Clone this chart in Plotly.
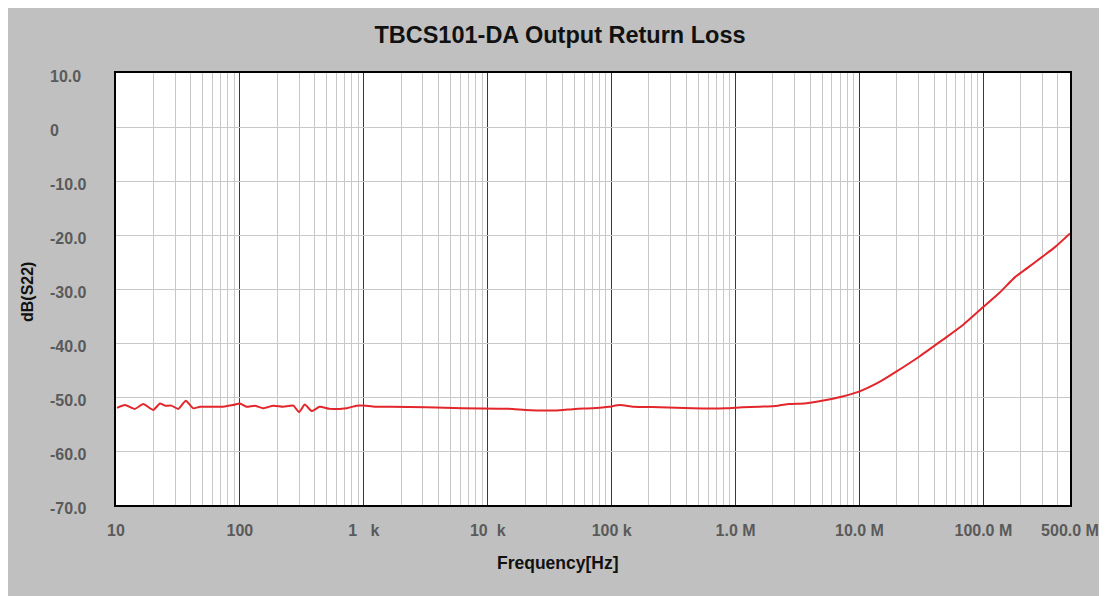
import plotly.graph_objects as go

freq_hz = [10.2, 11.8, 14.2, 16.6, 20, 22.6, 24.8, 28, 31.8, 36.6, 42, 47.6, 57, 73, 88,
           100, 113, 132, 154, 186, 223, 270, 300, 334, 380, 440, 530, 640, 728, 870,
           1050, 1260, 1620, 3200, 6300, 15900, 20000, 35000, 51000, 70000, 95000,
           117000, 150000, 245000, 450000, 830000, 1.13e6, 1.55e6, 2.2e6, 2.7e6, 3.6e6,
           4.5e6, 7.3e6, 9.9e6, 14.5e6, 19.8e6, 30.5e6, 47e6, 68e6, 99e6, 135e6, 180e6,
           230e6, 300e6, 380e6, 500e6]
s22_db = [-52.0, -51.5, -52.2, -51.3, -52.4, -51.2, -51.6, -51.6, -52.2, -50.7, -52.1,
          -51.8, -51.8, -51.8, -51.5, -51.2, -51.8, -51.6, -52.1, -51.6, -51.8, -51.6,
          -52.8, -51.4, -52.6, -51.8, -52.2, -52.2, -52.1, -51.6, -51.6, -51.8, -51.8,
          -51.9, -52.1, -52.2, -52.4, -52.5, -52.2, -52.1, -51.8, -51.5, -51.8, -51.9,
          -52.1, -52.1, -51.9, -51.8, -51.6, -51.3, -51.2, -50.9, -49.9, -49.0, -47.2,
          -45.3, -42.5, -39.4, -36.7, -33.4, -30.7, -27.8, -26.0, -24.0, -22.2, -19.7]

x_tick_vals = [10, 100, 1e3, 1e4, 1e5, 1e6, 1e7, 1e8, 5e8]
x_tick_text = ["10", "100", "1\u00a0\u00a0\u00a0k", "10\u00a0\u00a0k", "100 k",
               "1.0 M", "10.0 M", "100.0 M", "500.0 M"]
y_tick_vals = [10, 0, -10, -20, -30, -40, -50, -60, -70]
y_tick_text = ["10.0", "0", "-10.0", "-20.0", "-30.0", "-40.0", "-50.0", "-60.0", "-70.0"]

# page has an 8px body margin, so figure pixel = screenshot pixel - 8
W, H = 1107, 596
L, R, T, B = 108, 45, 65, 99
pw, ph = W - L - R, H - T - B

fig = go.Figure()
fig.add_trace(go.Scatter(x=freq_hz, y=s22_db, mode="lines",
                         line=dict(color="#e3262b", width=2, shape="spline", smoothing=0.5),
                         showlegend=False))

FONT = "Liberation Sans, Arial, sans-serif"
tick_font = dict(family=FONT, size=16, color="#5a5a5a")

fig.update_xaxes(type="log", range=[1, 8.69897], tickvals=x_tick_vals, ticktext=x_tick_text,
                 tickfont=dict(family=FONT, size=16, color="#5a5a5a", weight="bold"),
                 ticks="", ticklabelstandoff=10,
                 showgrid=True, gridcolor="#3a3a3a", gridwidth=1,
                 minor=dict(dtick="D1", showgrid=True, gridcolor="#c8c8c8", gridwidth=1),
                 showline=True, linecolor="black", linewidth=2, mirror=True, zeroline=False)
fig.update_yaxes(range=[-70, 10], tickvals=y_tick_vals, showticklabels=False, ticks="",
                 showgrid=True, gridcolor="#c8c8c8", gridwidth=1,
                 showline=True, linecolor="black", linewidth=2, mirror=True, zeroline=False)

# y tick labels are left aligned in the original
for v, t in zip(y_tick_vals, y_tick_text):
    fig.add_annotation(x=(40 - L) / pw, xref="paper", y=v, yref="y", yshift=-3,
                       text="<b>%s</b>" % t, showarrow=False, xanchor="left",
                       font=tick_font)

fig.add_annotation(x=(550 - L) / pw, xref="paper", y=(H - B - 555) / ph, yref="paper",
                   xanchor="center", yanchor="middle",
                   text="<b>Frequency[Hz]</b>", showarrow=False,
                   font=dict(family=FONT, size=17.5, color="#111111"))
fig.add_annotation(x=(19 - L) / pw, xref="paper", y=(H - B - 284) / ph, yref="paper",
                   xanchor="center", yanchor="middle",
                   text="<b>dB(S22)</b>", showarrow=False, textangle=-90,
                   font=dict(family=FONT, size=16, color="#111111"))

fig.update_layout(
    width=W, height=H, margin=dict(l=L, r=R, t=T, b=B),
    paper_bgcolor="#c0c0c0", plot_bgcolor="white",
    title=dict(text="<b>TBCS101-DA Output Return Loss</b>", x=552 / W, xanchor="center",
               y=1 - 27 / H, yanchor="middle",
               font=dict(family=FONT, size=23.5, color="#111111")),
    font=dict(family=FONT),
)

fig.write_html("out.html")
